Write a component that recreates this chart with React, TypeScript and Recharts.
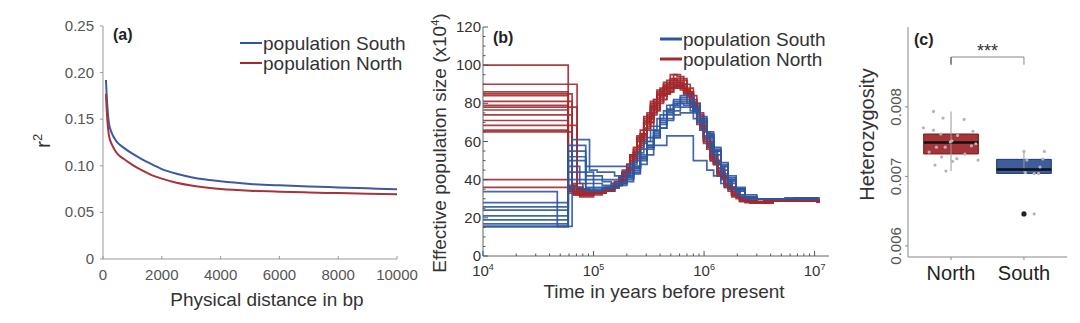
import React from 'react'
import { LineChart, Line, XAxis, YAxis, ComposedChart, Scatter, ReferenceArea, ReferenceLine } from 'recharts'

const FONT = '"Liberation Sans", Arial, sans-serif'
const RED = '#a3292c'
const BLUE = '#2d56a0'

// ---- (a) LD decay ----
const LD_DIST = [100, 150, 200, 300, 400, 500, 700, 1000, 1300, 1600, 2000, 2500, 3000, 3500, 4000, 5000, 6000, 7000, 8000, 9000, 10000]
const LD_SOUTH = [0.192, 0.163, 0.146, 0.135, 0.129, 0.1245, 0.1195, 0.113, 0.1075, 0.1025, 0.0965, 0.0915, 0.0878, 0.0852, 0.0833, 0.0806, 0.079, 0.0778, 0.0768, 0.0758, 0.0748]
const LD_NORTH = [0.177, 0.148, 0.133, 0.123, 0.117, 0.1125, 0.1075, 0.101, 0.0955, 0.0908, 0.0862, 0.0818, 0.0788, 0.0767, 0.0752, 0.0733, 0.0722, 0.0714, 0.0707, 0.07, 0.0694]
const LD_X_TICKS = [0, 2000, 4000, 6000, 8000, 10000]
const LD_Y_TICKS = [0, 0.05, 0.1, 0.15, 0.2, 0.25]

// ---- (b) PSMC bootstraps (Ne x10^4), two time grids ----
const TIMES_A = [1e4, 5.9e4, 6.6e4, 7.5e4, 8.5e4, 1e5, 1.2e5, 1.45e5, 1.7e5, 2e5, 2.3e5, 2.65e5, 3.05e5, 3.5e5, 4e5, 4.6e5, 5.3e5, 6.1e5, 7e5, 8e5, 9.2e5, 1.06e6, 1.22e6, 1.42e6, 1.65e6, 1.95e6, 2.35e6, 3e6, 4.2e6, 6.5e6, 1.06e7]
const TIMES_B = [1e4, 4.7e4, 6.4e4, 7.1e4, 8e4, 9.2e4, 1.08e5, 1.3e5, 1.55e5, 1.82e5, 2.13e5, 2.47e5, 2.85e5, 3.28e5, 3.75e5, 4.3e5, 4.95e5, 5.7e5, 6.55e5, 7.5e5, 8.6e5, 9.9e5, 1.14e6, 1.32e6, 1.53e6, 1.78e6, 2.1e6, 2.6e6, 3.5e6, 5.4e6, 1.1e7]

const NORTH_A = [
  [100, 36, 34, 33, 33, 34, 35, 36, 40, 46, 54, 62, 72, 80, 86, 90, 93, 92, 88, 80, 70, 60, 50, 42, 36, 31, 29, 28, 29, 29, 28],
  [86, 34, 32, 32, 33, 34, 36, 38, 42, 48, 56, 64, 74, 82, 88, 92, 95, 93, 86, 76, 66, 56, 48, 41, 35, 31, 29, 28, 29, 29, 28],
  [84, 35, 33, 32, 32, 33, 34, 36, 39, 45, 52, 60, 70, 78, 84, 88, 90, 89, 85, 78, 68, 57, 48, 41, 35, 31, 29, 28, 29, 29.5, 28],
  [79, 33, 32, 31, 31, 32, 34, 36, 41, 48, 57, 66, 75, 82, 87, 90, 92, 90, 85, 77, 67, 57, 48, 40, 34, 30, 28, 28, 29, 29, 28],
  [76.5, 36, 34, 33, 33, 33, 35, 37, 40, 45, 53, 61, 70, 77, 82, 86, 88, 87, 83, 76, 67, 58, 49, 42, 36, 32, 29, 28, 29, 29, 28],
  [71, 34, 33, 32, 32, 33, 34, 36, 40, 46, 55, 64, 73, 80, 85, 88, 91, 90, 86, 79, 69, 58, 49, 41, 35, 31, 28.5, 28, 29, 29, 28],
  [66, 35, 33, 32, 32, 33, 34, 36, 39, 44, 51, 59, 68, 76, 82, 86, 89, 88, 84, 77, 68, 59, 50, 42, 36, 31, 29, 28, 29, 29, 28],
  [40, 37, 35, 34, 33, 33, 34, 36, 40, 46, 54, 63, 72, 79, 84, 87, 89, 88, 84, 77, 68, 58, 49, 41, 35, 31, 29, 28, 29, 29, 28],
]
const NORTH_B = [
  [90, 90, 90, 38, 35, 34, 33, 34, 37, 42, 50, 60, 70, 78, 85, 90, 95, 94, 90, 84, 74, 62, 52, 44, 38, 33, 30, 28, 29, 29, 28],
  [85, 85, 36, 34, 33, 33, 34, 36, 39, 44, 52, 62, 72, 80, 86, 89, 91, 90, 86, 80, 72, 62, 52, 44, 37, 32, 29, 28, 29, 29, 28],
  [81, 81, 37, 35, 34, 33, 33, 35, 38, 44, 53, 63, 73, 81, 87, 91, 93, 91, 87, 80, 71, 60, 50, 42, 36, 31, 28.5, 28, 29, 29, 28],
  [78, 78, 78, 35, 34, 33, 33, 34, 37, 43, 51, 60, 69, 77, 83, 87, 89, 89, 86, 81, 73, 63, 53, 45, 38, 33, 29.5, 28.5, 29, 29.5, 28.5],
  [74, 74, 38, 36, 35, 34, 34, 35, 38, 43, 50, 58, 67, 75, 81, 85, 88, 88, 85, 79, 70, 60, 51, 43, 37, 32, 29, 28.5, 29, 29, 28],
  [68.5, 68.5, 68.5, 36, 34, 33, 33, 34, 37, 42, 49, 57, 66, 74, 80, 85, 88, 89, 87, 82, 75, 65, 55, 46, 39, 34, 30, 28.5, 29, 29, 28.5],
  [65, 65, 37, 35, 34, 33, 34, 35, 38, 44, 52, 61, 70, 78, 84, 88, 90, 89, 85, 78, 69, 59, 50, 42, 36, 32, 29, 28, 29, 29, 28],
  [36, 36, 36, 34, 33, 33, 34, 36, 39, 45, 53, 62, 71, 79, 85, 89, 92, 91, 87, 80, 71, 61, 51, 43, 37, 32, 29, 28, 29, 29, 28],
]
const SOUTH_A = [
  [28, 58, 58, 58, 47, 47, 47, 47, 47, 47, 50, 56, 62, 68, 74, 79, 82, 84, 84, 80, 73, 64, 55, 47, 40, 35, 31, 30, 30, 30.5, 30],
  [25.7, 55, 55, 55, 42, 42, 40, 40, 41, 43, 47, 52, 58, 64, 70, 75, 79, 81, 80, 76, 70, 62, 53, 45, 39, 34, 31, 30, 30, 30, 29.5],
  [24, 50, 50, 50, 40, 40, 39, 38, 38, 40, 44, 50, 56, 62, 67, 72, 76, 78, 78, 75, 70, 63, 55, 47, 40, 35, 31, 30, 30, 30, 30],
  [21, 47, 47, 44, 38, 36, 36, 36, 37, 39, 43, 48, 53, 58, 58, 63, 63, 63, 63, 50, 50, 45, 42, 38, 35, 32, 30, 30, 30, 30, 29.5],
  [18.9, 44, 44, 40, 36, 35, 35, 36, 38, 41, 45, 51, 57, 63, 69, 74, 78, 80, 80, 77, 72, 65, 57, 49, 42, 36, 32, 30, 30, 30.5, 30],
  [16.8, 40, 40, 38, 35, 34, 35, 36, 38, 42, 47, 53, 60, 66, 72, 77, 81, 83, 82, 78, 72, 64, 56, 48, 41, 35, 31, 30, 30, 30, 30],
  [15.7, 36, 36, 35, 34, 34, 35, 36, 38, 41, 46, 52, 58, 65, 71, 76, 80, 82, 81, 77, 71, 63, 55, 47, 40, 35, 31, 30, 30, 30, 29.5],
  [15.2, 52, 52, 52, 44, 38, 37, 37, 39, 42, 46, 51, 57, 62, 67, 71, 74, 75, 75, 72, 66, 58, 50, 43, 38, 34, 31, 30, 30, 30, 30],
]
const SOUTH_B = [
  [33.7, 15.5, 61, 61, 61, 45, 44, 44, 42, 44, 48, 54, 60, 66, 72, 76, 79, 80, 79, 76, 70, 62, 54, 46, 40, 35, 31, 30, 30, 30.5, 30],
]
const PSMC_X_MAJOR = [1e4, 1e5, 1e6, 1e7]
const PSMC_X_MAX = 1.35e7
const PSMC_Y_MAJOR = [0, 20, 40, 60, 80, 100, 120]

// ---- (c) heterozygosity ----
const GROUPS = ['North', 'South']
const Q1 = [0.007323, 0.007043]
const MEDIAN = [0.007487, 0.0071]
const Q3 = [0.00761, 0.007245]
const WHISK_LO = [0.007077, 0.007043]
const WHISK_HI = [0.007935, 0.00736]
const BOX_FILL = ['#9d2428', '#2c4f94']
const BOX_EDGE = ['#7a1a1d', '#1f3a70']
const JIT_X = [0.76, 0.89, 1.18, 0.62, 0.76, 0.86, 1.09, 1.3, 1.01, 0.99, 1.34, 0.8, 0.92, 0.7, 1.28, 1.19, 0.87, 1.08, 1.37, 0.78, 1.02, 0.93,
  2.0, 2.28, 2.04, 2.22, 2.02, 2.2, 2.14, 2.26, 2.14]
const JIT_Y = [0.007935, 0.00784, 0.00782, 0.0077, 0.007665, 0.00761, 0.00759, 0.00765, 0.00751, 0.007495, 0.00747, 0.00742, 0.00742, 0.00735, 0.00744, 0.00732, 0.00728, 0.007255, 0.007235, 0.007163, 0.007217, 0.007077,
  0.00736, 0.00736, 0.007235, 0.007135, 0.007053, 0.007043, 0.00704, 0.00725, 0.00646]
const OUTLIER_X = [2]
const OUTLIER_Y = [0.00646]
const SIG_Y = 0.008718
const SIG_TICK_Y = 0.008607

const ldData = LD_DIST.map((d, i) => ({ d, south: LD_SOUTH[i], north: LD_NORTH[i] }))
const toRun = (times: number[]) => (ne: number[]) => ne.map((v, i) => ({ t: times[i], ne: v }))
const northRuns = [...NORTH_A.map(toRun(TIMES_A)), ...NORTH_B.map(toRun(TIMES_B))]
const southRuns = [...SOUTH_A.map(toRun(TIMES_A)), ...SOUTH_B.map(toRun(TIMES_B))]
const psmcXMinor = PSMC_X_MAJOR.flatMap(d => [2, 3, 4, 5, 6, 7, 8, 9].map(m => m * d)).filter(v => v < PSMC_X_MAX)
const psmcXTicks = [...PSMC_X_MAJOR, ...psmcXMinor]
const psmcYTicks = Array.from({ length: 25 }, (_, i) => i * 5)
const jitter = JIT_X.map((x, i) => ({ x, y: JIT_Y[i] }))
const outliers = OUTLIER_X.map((x, i) => ({ x, y: OUTLIER_Y[i] }))

const txt = { fontFamily: FONT }

// ---- tick renderers ----
const LdXTick = ({ x, y, payload }: any) => (
  <g>
    <line x1={x} x2={x} y1={y} y2={y - 3} stroke="#999" />
    <text x={x} y={y + 21} textAnchor="middle" fontSize={15} fill="#555" style={txt}>{payload.value}</text>
  </g>
)
const LdYTick = ({ x, y, payload }: any) => (
  <g>
    <line x1={x} x2={x - 3} y1={y} y2={y} stroke="#999" />
    <text x={x - 9} y={y + 5} textAnchor="end" fontSize={15} fill="#555" style={txt}>
      {payload.value === 0 ? '0' : payload.value.toFixed(2)}
    </text>
  </g>
)
const PsmcXTick = ({ x, y, payload }: any) => {
  const major = PSMC_X_MAJOR.includes(payload.value)
  return (
    <g>
      <line x1={x} x2={x} y1={y} y2={y - (major ? 5 : 2.5)} stroke="#555" />
      {major && (
        <text x={x} y={y + 20} textAnchor="middle" fontSize={15} fill="#333" style={txt}>
          10<tspan dy={-6} fontSize={9}>{Math.round(Math.log10(payload.value))}</tspan>
        </text>
      )}
    </g>
  )
}
const PsmcTopTick = ({ x, y, payload }: any) => {
  const major = PSMC_X_MAJOR.includes(payload.value)
  return <line x1={x} x2={x} y1={y} y2={y + (major ? 5 : 2.5)} stroke="#555" />
}
const PsmcYTick = ({ x, y, payload }: any) => {
  const major = PSMC_Y_MAJOR.includes(payload.value)
  return (
    <g>
      <line x1={x} x2={x + (major ? 5 : 2.5)} y1={y} y2={y} stroke="#555" />
      {major && (
        <text x={x - 2} y={y + 5} textAnchor="end" fontSize={15} fill="#333" style={txt}>{payload.value}</text>
      )}
    </g>
  )
}
const PsmcRightTick = ({ x, y, payload }: any) => {
  const major = PSMC_Y_MAJOR.includes(payload.value)
  return <line x1={x} x2={x - (major ? 5 : 2.5)} y1={y} y2={y} stroke="#555" />
}
const HetXTick = ({ x, y, payload }: any) => (
  <g>
    <line x1={x} x2={x} y1={y} y2={y + 3} stroke="#888" />
    <text x={x} y={y + 23} textAnchor="middle" fontSize={20} fill="#222" style={txt}>{GROUPS[payload.value - 1]}</text>
  </g>
)
const HetYTick = ({ x, y, payload }: any) => (
  <g>
    <line x1={x} x2={x - 3} y1={y} y2={y} stroke="#888" />
    <text transform={`translate(${x - 7},${y}) rotate(-90)`} textAnchor="middle" fontSize={15} fill="#555" style={txt}>
      {payload.value.toFixed(3)}
    </text>
  </g>
)

const LegendSvg = ({ x, y, width }: { x: number; y: number; width: number }) => (
  <g>
    {[['population South', BLUE], ['population North', RED]].map(([label, color], i) => (
      <g key={label}>
        <line x1={x} x2={x + 22} y1={y + i * 20} y2={y + i * 20} stroke={color} strokeWidth={width} />
        <text x={x + 23} y={y + i * 20 + 6.5} fontSize={19} fill="#333" style={txt}>{label}</text>
      </g>
    ))}
  </g>
)

function PanelA() {
  return (
    <LineChart width={420} height={323} data={ldData} margin={{ top: 26, right: 23, bottom: 0, left: 0 }}>
      <XAxis dataKey="d" type="number" domain={[0, 10000]} ticks={LD_X_TICKS} interval={0} height={64} tickSize={0} tickMargin={0}
        tickLine={false} tick={LdXTick} axisLine={{ stroke: '#999' }} />
      <YAxis type="number" domain={[0, 0.25]} ticks={LD_Y_TICKS} interval={0} width={103} tickSize={0} tickMargin={0}
        tickLine={false} tick={LdYTick} axisLine={{ stroke: '#999' }} />
      <Line dataKey="south" type="monotone" stroke="#3d5a9e" strokeWidth={2} dot={false} isAnimationActive={false} />
      <Line dataKey="north" type="monotone" stroke="#a8323a" strokeWidth={2} dot={false} isAnimationActive={false} />
      <text x={113} y={40} fontSize={16} fontWeight="bold" fill="#222" style={txt}>(a)</text>
      <text transform="translate(50,141) rotate(-90)" textAnchor="middle" fontSize={21} fill="#333" style={txt}>
        r<tspan dy={-8} fontSize={13}>2</tspan>
      </text>
      <text x={267} y={306} textAnchor="middle" fontSize={19} fill="#333" style={txt}>Physical distance in bp</text>
      <LegendSvg x={240} y={43} width={2} />
    </LineChart>
  )
}

function PanelB() {
  return (
    <LineChart width={440} height={323} margin={{ top: 27, right: 21, bottom: 0, left: 0 }}>
      <XAxis dataKey="t" type="number" scale="log" domain={[1e4, PSMC_X_MAX]} allowDataOverflow ticks={psmcXTicks} interval={0}
        height={67} tickSize={0} tickMargin={0} tickLine={false} tick={PsmcXTick} axisLine={{ stroke: '#666' }} />
      <XAxis xAxisId="top" orientation="top" dataKey="t" type="number" scale="log" domain={[1e4, PSMC_X_MAX]} allowDataOverflow
        ticks={psmcXTicks} interval={0} height={0} tickSize={0} tickMargin={0} tickLine={false} tick={PsmcTopTick} axisLine={{ stroke: '#666' }} />
      <YAxis type="number" domain={[0, 120]} allowDataOverflow ticks={psmcYTicks} interval={0} width={73} tickSize={0} tickMargin={0}
        tickLine={false} tick={PsmcYTick} axisLine={{ stroke: '#666' }} />
      <YAxis yAxisId="right" orientation="right" type="number" domain={[0, 120]} allowDataOverflow ticks={psmcYTicks} interval={0} width={0}
        tickSize={0} tickMargin={0} tickLine={false} tick={PsmcRightTick} axisLine={{ stroke: '#666' }} />
      {northRuns.map((run, i) => (
        <Line key={`n${i}`} data={run} dataKey="ne" type="stepAfter" stroke={RED} strokeWidth={1.7} strokeOpacity={0.9}
          dot={false} isAnimationActive={false} />
      ))}
      {southRuns.map((run, i) => (
        <Line key={`s${i}`} data={run} dataKey="ne" type="stepAfter" stroke={BLUE} strokeWidth={1.7} strokeOpacity={0.9}
          dot={false} isAnimationActive={false} />
      ))}
      <text x={83} y={43} fontSize={16} fontWeight="bold" fill="#222" style={txt}>(b)</text>
      <text transform="translate(36,143) rotate(-90)" textAnchor="middle" fontSize={19} fill="#333" style={txt}>
        Effective population size (x10<tspan dy={-7} fontSize={11}>4</tspan><tspan dy={7}>)</tspan>
      </text>
      <text x={254} y={298} textAnchor="middle" fontSize={19} fill="#333" style={txt}>Time in years before present</text>
      <LegendSvg x={250} y={39} width={3} />
    </LineChart>
  )
}

function PanelC() {
  return (
    <ComposedChart width={240} height={323} margin={{ top: 27, right: 13, bottom: 0, left: 0 }}>
      <XAxis dataKey="x" type="number" domain={[0.41, 2.59]} allowDataOverflow ticks={[1, 2]} interval={0} height={66} tickSize={0}
        tickMargin={0} tickLine={false} tick={HetXTick} axisLine={{ stroke: '#888' }} />
      <XAxis xAxisId="top" orientation="top" type="number" domain={[0.41, 2.59]} allowDataOverflow height={0} tick={false}
        tickLine={false} axisLine={{ stroke: '#888' }} />
      <YAxis dataKey="y" type="number" domain={[0.00584, 0.00915]} allowDataOverflow ticks={[0.006, 0.007, 0.008]} interval={0} width={68}
        tickSize={0} tickMargin={0} tickLine={false} tick={HetYTick} axisLine={{ stroke: '#888' }} />
      <YAxis yAxisId="right" orientation="right" type="number" domain={[0.00584, 0.00915]} allowDataOverflow width={0}
        tick={false} tickLine={false} axisLine={{ stroke: '#888' }} />
      {GROUPS.map((g, i) => (
        <ReferenceLine key={`w${g}`} segment={[{ x: i + 1, y: WHISK_LO[i] }, { x: i + 1, y: WHISK_HI[i] }]} stroke="#999" strokeWidth={1} />
      ))}
      {GROUPS.map((g, i) => (
        <ReferenceArea key={`b${g}`} x1={i + 1 - 0.375} x2={i + 1 + 0.375} y1={Q1[i]} y2={Q3[i]} fill={BOX_FILL[i]} fillOpacity={0.92}
          stroke={BOX_EDGE[i]} strokeWidth={1} />
      ))}
      {GROUPS.map((g, i) => (
        <ReferenceLine key={`m${g}`} segment={[{ x: i + 1 - 0.375, y: MEDIAN[i] }, { x: i + 1 + 0.375, y: MEDIAN[i] }]} stroke="#111" strokeWidth={2.5} />
      ))}
      <Scatter data={jitter} dataKey="y" fill="#b0b0b0" shape={(p: any) => <circle cx={p.cx} cy={p.cy} r={1.6} fill="#b5b5b5" />}
        isAnimationActive={false} />
      <Scatter data={outliers} dataKey="y" fill="#222" shape={(p: any) => <circle cx={p.cx} cy={p.cy} r={2.6} fill="#222" />}
        isAnimationActive={false} />
      <ReferenceLine segment={[{ x: 1, y: SIG_Y }, { x: 2, y: SIG_Y }]} stroke="#888" strokeWidth={1}
        label={{ value: '***', position: 'top', fontSize: 18, fill: '#333', offset: 0 }} />
      <ReferenceLine segment={[{ x: 1, y: SIG_TICK_Y }, { x: 1, y: SIG_Y }]} stroke="#666" strokeWidth={1.5} />
      <ReferenceLine segment={[{ x: 2, y: SIG_TICK_Y }, { x: 2, y: SIG_Y }]} stroke="#888" strokeWidth={1} />
      <text x={74} y={45} fontSize={16} fontWeight="bold" fill="#222" style={txt}>(c)</text>
      <text transform="translate(34,134.5) rotate(-90)" textAnchor="middle" fontSize={20} fill="#333" style={txt}>Heterozygosity</text>
    </ComposedChart>
  )
}

export default function App() {
  return (
    <div style={{ position: 'absolute', left: 0, top: 0, width: 1080, height: 323, background: '#fff', fontFamily: FONT }}>
      <div style={{ position: 'absolute', left: 0, top: 0 }}><PanelA /></div>
      <div style={{ position: 'absolute', left: 410, top: 0 }}><PanelB /></div>
      <div style={{ position: 'absolute', left: 840, top: 0 }}><PanelC /></div>
    </div>
  )
}
